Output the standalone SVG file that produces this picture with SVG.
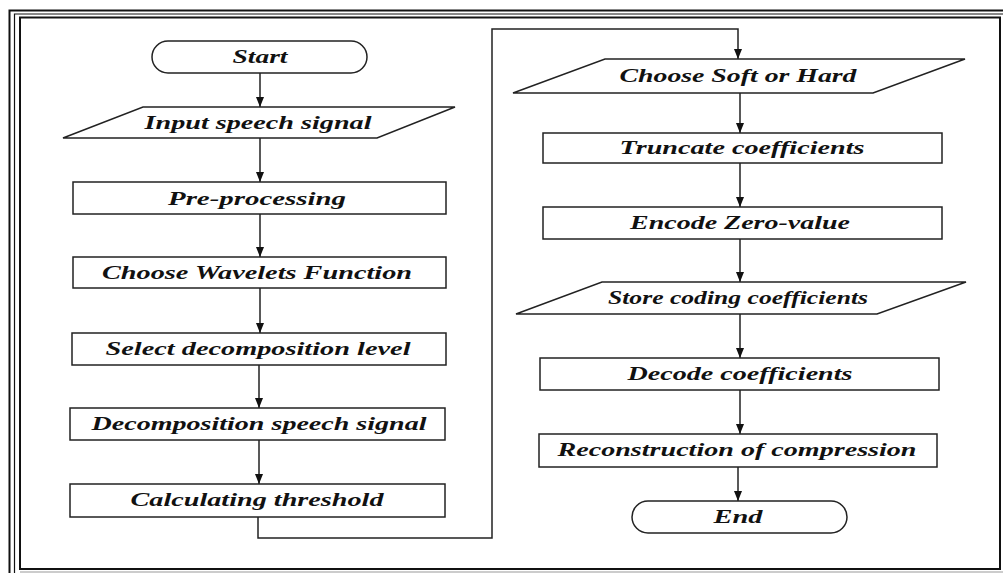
<svg xmlns="http://www.w3.org/2000/svg" width="1003" height="573" viewBox="0 0 1003 573">
<defs>
<marker id="arr" viewBox="0 0 10 8" refX="10" refY="4" markerWidth="10" markerHeight="8" markerUnits="userSpaceOnUse" orient="auto">
<path d="M0,0 L10,4 L0,8 Z" fill="#111"/>
</marker>
</defs>
<style>
.shape{fill:#fff;stroke:#222;stroke-width:1.5}
.lbl{font-family:"Liberation Serif","Times New Roman",serif;font-style:italic;font-weight:bold;font-size:18px;fill:#111;text-anchor:middle}
.con{fill:none;stroke:#222;stroke-width:1.5}
.frame{fill:none;stroke:#111}
</style>
<rect width="1003" height="573" fill="#fff"/>
<g id="frame">
<path class="frame" d="M9.5 573 V10.5 H1003" stroke-width="2"/>
<path class="frame" d="M14.5 573 V14 H1003" stroke-width="1.2"/>
<rect class="frame" x="20" y="17.5" width="980" height="551.5" stroke-width="2"/>
<line x1="20" y1="572" x2="1003" y2="572" stroke="#999" stroke-width="1"/>
</g>
<g id="connectors">
<line class="con" x1="260" y1="73" x2="260" y2="107" marker-end="url(#arr)"/>
<line class="con" x1="260" y1="138" x2="260" y2="182" marker-end="url(#arr)"/>
<line class="con" x1="260" y1="214" x2="260" y2="257" marker-end="url(#arr)"/>
<line class="con" x1="260" y1="288" x2="260" y2="333" marker-end="url(#arr)"/>
<line class="con" x1="259" y1="365" x2="259" y2="408" marker-end="url(#arr)"/>
<line class="con" x1="259" y1="440" x2="259" y2="484" marker-end="url(#arr)"/>
<path class="con" d="M258 517 V538 H492 V29 H738 V59" marker-end="url(#arr)"/>
<line class="con" x1="740" y1="93" x2="740" y2="133" marker-end="url(#arr)"/>
<line class="con" x1="740" y1="163" x2="740" y2="207" marker-end="url(#arr)"/>
<line class="con" x1="740" y1="239" x2="740" y2="282" marker-end="url(#arr)"/>
<line class="con" x1="740" y1="314" x2="740" y2="358" marker-end="url(#arr)"/>
<line class="con" x1="740" y1="390" x2="740" y2="434" marker-end="url(#arr)"/>
<line class="con" x1="738" y1="467" x2="738" y2="501" marker-end="url(#arr)"/>
</g>
<g id="start">
<rect class="shape" x="152" y="41" width="215" height="32" rx="16" ry="16"/>
<text class="lbl" x="260" y="63" textLength="55" lengthAdjust="spacingAndGlyphs">Start</text>
</g>
<g id="input">
<polygon class="shape" points="143,107 455,107 377,138 63,138"/>
<text class="lbl" x="258" y="129" textLength="227" lengthAdjust="spacingAndGlyphs">Input speech signal</text>
</g>
<g id="preprocessing">
<rect class="shape" x="73" y="182" width="373" height="32"/>
<text class="lbl" x="257" y="205" textLength="178" lengthAdjust="spacingAndGlyphs">Pre-processing</text>
</g>
<g id="wavelets">
<rect class="shape" x="73" y="257" width="373" height="31"/>
<text class="lbl" x="257" y="279" textLength="310" lengthAdjust="spacingAndGlyphs">Choose Wavelets Function</text>
</g>
<g id="select">
<rect class="shape" x="72" y="333" width="374" height="32"/>
<text class="lbl" x="258" y="355" textLength="305" lengthAdjust="spacingAndGlyphs">Select decomposition level</text>
</g>
<g id="decomposition">
<rect class="shape" x="70" y="408" width="375" height="32"/>
<text class="lbl" x="259" y="430" textLength="335" lengthAdjust="spacingAndGlyphs">Decomposition speech signal</text>
</g>
<g id="threshold">
<rect class="shape" x="70" y="484" width="375" height="33"/>
<text class="lbl" x="257" y="506" textLength="253" lengthAdjust="spacingAndGlyphs">Calculating threshold</text>
</g>
<g id="softhard">
<polygon class="shape" points="605,59 965,59 873,93 513,93"/>
<text class="lbl" x="738" y="82" textLength="237" lengthAdjust="spacingAndGlyphs">Choose Soft or Hard</text>
</g>
<g id="truncate">
<rect class="shape" x="543" y="133" width="399" height="30"/>
<text class="lbl" x="742" y="154" textLength="245" lengthAdjust="spacingAndGlyphs">Truncate coefficients</text>
</g>
<g id="encode">
<rect class="shape" x="543" y="207" width="399" height="32"/>
<text class="lbl" x="740" y="229" textLength="220" lengthAdjust="spacingAndGlyphs">Encode Zero-value</text>
</g>
<g id="store">
<polygon class="shape" points="602,282 966,282 877,314 516,314"/>
<text class="lbl" x="738" y="304" textLength="260" lengthAdjust="spacingAndGlyphs">Store coding coefficients</text>
</g>
<g id="decode">
<rect class="shape" x="540" y="358" width="399" height="32"/>
<text class="lbl" x="740" y="380" textLength="225" lengthAdjust="spacingAndGlyphs">Decode coefficients</text>
</g>
<g id="reconstruction">
<rect class="shape" x="539" y="434" width="398" height="33"/>
<text class="lbl" x="737" y="456" textLength="359" lengthAdjust="spacingAndGlyphs">Reconstruction of compression</text>
</g>
<g id="end">
<rect class="shape" x="632" y="501" width="215" height="32" rx="16" ry="16"/>
<text class="lbl" x="738" y="523" textLength="49" lengthAdjust="spacingAndGlyphs">End</text>
</g>
</svg>
